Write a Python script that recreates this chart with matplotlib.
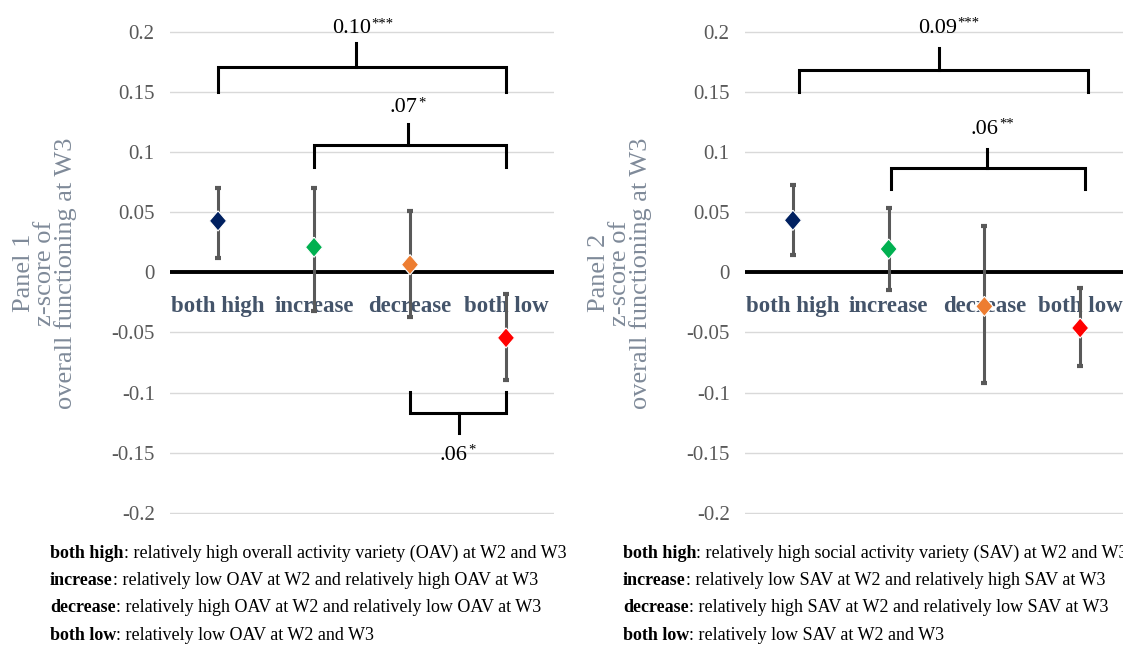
import numpy as np
import matplotlib
matplotlib.use('Agg')
import matplotlib.pyplot as plt

plt.rcParams['font.family'] = ['Liberation Serif', 'DejaVu Serif']

# group order and colours
groups = ['both high', 'increase', 'decrease', 'both low']
colors = ['#002060', '#00B050', '#ED7D31', '#FF0000']

# Panel 1: overall activity variety (mean and CI limits)
p1_mean = [0.0428, 0.0209, 0.0064, -0.0545]
p1_upper = [0.0705, 0.0700, 0.0507, -0.0176]
p1_lower = [0.0121, -0.0320, -0.0369, -0.0895]

# Panel 2: social activity variety
p2_mean = [0.0433, 0.0194, -0.0283, -0.0463]
p2_upper = [0.0726, 0.0533, 0.0384, -0.0134]
p2_lower = [0.0147, -0.0143, -0.0920, -0.0778]

y_ticks = [0.2, 0.15, 0.1, 0.05, 0, -0.05, -0.1, -0.15, -0.2]
y_tick_labels = ['0.2', '0.15', '0.1', '0.05', '0', '-0.05', '-0.1', '-0.15', '-0.2']

# significance brackets: difference and stars
p1_diffs = ['0.10', '.07', '.06']
p1_stars = ['***', '*', '*']
p2_diffs = ['0.09', '.06']
p2_stars = ['***', '**']

# bracket layout: (x left, x right, leg end, bar level, tick end, tick x, label x, label y)
p1_bracket_geo = [
    (0.0, 3.0, 0.150, 0.171, 0.191, 1.44, 1.39, 0.2025),
    (1.0, 3.0, 0.088, 0.1058, 0.123, 1.98, 1.93, 0.137),
    (2.0, 3.0, -0.0997, -0.1169, -0.134, 2.51, 2.45, -0.152),
]
p2_bracket_geo = [
    (0.06, 3.08, 0.150, 0.168, 0.1866, 1.53, 1.51, 0.203),
    (1.02, 3.05, 0.0697, 0.0867, 0.1028, 2.03, 2.00, 0.119),
]

p1_notes = [
    ('both high', ': relatively high overall activity variety (OAV) at W2 and W3'),
    ('increase', ': relatively low OAV at W2 and relatively high OAV at W3'),
    ('decrease', ': relatively high OAV at W2 and relatively low OAV at W3'),
    ('both low', ': relatively low OAV at W2 and W3'),
]
p2_notes = [
    ('both high', ': relatively high social activity variety (SAV) at W2 and W3'),
    ('increase', ': relatively low SAV at W2 and relatively high SAV at W3'),
    ('decrease', ': relatively high SAV at W2 and relatively low SAV at W3'),
    ('both low', ': relatively low SAV at W2 and W3'),
]

diamond = [(0, 1), (0.85, 0), (0, -1), (-0.85, 0), (0, 1)]


def draw_panel(ax, mean, upper, lower, diffs, stars, geo):
    x = np.arange(len(groups))
    mean = np.array(mean)
    yerr = [mean - np.array(lower), np.array(upper) - mean]
    ax.set_xlim(-0.5, 3.5)
    ax.set_ylim(-0.201, 0.201)
    ax.set_yticks(y_ticks)
    ax.set_yticklabels(y_tick_labels)
    ax.set_xticks([])
    ax.tick_params(axis='y', length=0, pad=11, labelsize=15, labelcolor='#595959')
    for s in ax.spines.values():
        s.set_visible(False)
    ax.grid(axis='y', color='#d9d9d9', lw=1)
    ax.set_axisbelow(True)
    ax.axhline(0, color='black', lw=2.8, zorder=2)
    for i, g in enumerate(groups):
        ax.text(i, -0.0287, g, ha='center', va='center', fontsize=16.5,
                fontweight='bold', color='#44546A', zorder=2.5)
    ax.errorbar(x, mean, yerr=yerr, fmt='none', ecolor='#595959', elinewidth=2.2,
                capsize=2.2, capthick=3, zorder=3)
    ax.scatter(x, mean, c=colors, marker=diamond, s=14.5 ** 2,
               edgecolors='white', linewidths=0.8, zorder=4)
    for (xl, xr, leg, bar, tip, tx, lx, ly), d, st in zip(geo, diffs, stars):
        ax.plot([xl, xl, xr, xr], [leg, bar, bar, leg], color='black', lw=2.2,
                solid_joinstyle='miter', clip_on=False, zorder=3)
        ax.plot([tx, tx], [bar, tip], color='black', lw=2.2, clip_on=False, zorder=3)
        t = ax.text(lx, ly, d, ha='center', va='center', fontsize=16, clip_on=False)
        ax.annotate(st, xy=(1, 1), xycoords=t, xytext=(0.5, 1.5),
                    textcoords='offset points', ha='left', va='top', fontsize=10.5)


def draw_notes(fig, ax, x0, notes):
    y = 1 - 553 / 653
    for bold, rest in notes:
        t = fig.text(x0, y, bold, fontsize=13, fontweight='bold', va='center')
        ax.annotate(rest, xy=(1, 0), xycoords=t, va='bottom', ha='left', fontsize=13)
        y -= 27.4 / 653


fig = plt.figure(figsize=(11.23, 6.53), dpi=100)
ax1 = fig.add_axes([170 / 1123, 139 / 653, 384 / 1123, 483.3 / 653])
ax2 = fig.add_axes([745 / 1123, 139 / 653, 383 / 1123, 483.3 / 653])

draw_panel(ax1, p1_mean, p1_upper, p1_lower, p1_diffs, p1_stars, p1_bracket_geo)
draw_panel(ax2, p2_mean, p2_upper, p2_lower, p2_diffs, p2_stars, p2_bracket_geo)

ylab_color = '#7f8a99'
fig.text(45 / 1123, 0.582, 'Panel 1\nz-score of\noverall functioning at W3', rotation=90,
         ha='center', va='center', multialignment='center', fontsize=19,
         linespacing=0.9, color=ylab_color)
fig.text(620 / 1123, 0.582, 'Panel 2\nz-score of\noverall functioning at W3', rotation=90,
         ha='center', va='center', multialignment='center', fontsize=19,
         linespacing=0.9, color=ylab_color)

draw_notes(fig, ax1, 50 / 1123, p1_notes)
draw_notes(fig, ax2, 623 / 1123, p2_notes)

fig.savefig('out.png', dpi=100)
